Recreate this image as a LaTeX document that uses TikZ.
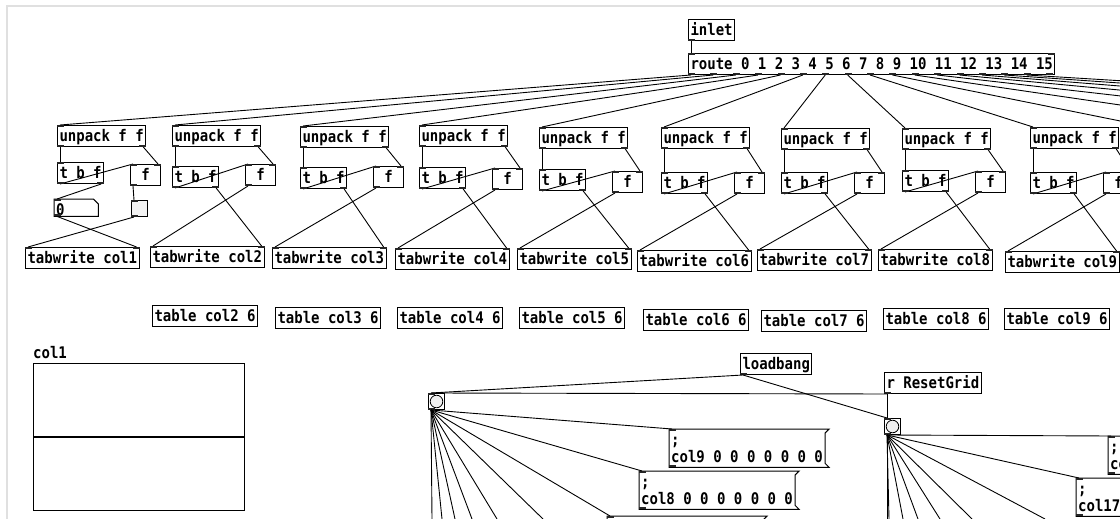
\documentclass[tikz,border=0pt]{standalone}
\usepackage{fontspec}
\newfontfamily\pdmono[FakeStretch=0.875]{DejaVu Sans Mono}
\newcommand\pdfont{\pdmono\bfseries\fontsize{16}{17}\selectfont}
\newcommand\pdmsg[1]{\vbox{\baselineskip=17pt\hbox{;}\hbox{#1}}}

\begin{document}
\begin{tikzpicture}[x=1pt, y=-1pt,
  obj/.style={draw, line width=1pt, anchor=north west, inner xsep=2pt, inner ysep=1pt,
    text height=15pt, text depth=4pt, font=\pdfont},
  msgbox/.style={anchor=north west, inner xsep=2pt, inner ysep=1pt,
    text height=32pt, text depth=4pt, font=\pdfont},
  wire/.style={line width=0.9pt},
  io/.style={fill=black!85},
  bng/.style={draw, line width=1pt, anchor=north west, minimum size=16pt, inner sep=0pt,
    path picture={\draw[line width=0.8pt, fill=black!6]
      (path picture bounding box.center) circle (6.3pt);}}]

\useasboundingbox (0,0) rectangle (1120,519);
\clip (0,0) rectangle (1120,519);
\fill[white] (0,0) rectangle (1120,519);
\draw[black!12, line width=2pt] (1120,6) -- (7,6) -- (7,519);

\node[obj] (inlet) at (688,19) {inlet};
\node[obj] (route) at (688,53) {route 0 1 2 3 4 5 6 7 8 9 10 11 12 13 14 15};
\draw[wire] ([xshift=3pt]inlet.south west) -- ([xshift=3pt]route.north west);
\fill[io] (inlet.south west) rectangle ++(7,-2);
\fill[io] (route.north west) rectangle ++(7,2);
\fill[io] (route.north east) rectangle ++(-7,2);
\foreach \k in {0,...,16}
  \fill[io] ([xshift={\k*22.375*1pt}]route.south west) rectangle ++(7,-2);

\foreach \i/\L/\uy/\ty/\fy/\wx/\wy in {1/57/125/162/164/25/247, 2/172/125/166/164/150/246,
    3/300/126/167/166/272/247, 4/419/125/167/168/395/248, 5/539/127/169/171/517/248,
    6/661/127/172/172/637/250, 7/781/128/172/172/757/249, 8/902/128/170/171/878/249,
    9/1030/127/172/172/1005/251}{
  \node[obj] (up\i) at (\L,\uy) {unpack f f};
  \node[obj] (tbf\i) at (\L,\ty) {t b f};
  \node[obj, minimum width=30pt] (ff\i) at (\L+73,\fy) {f};
  \node[obj] (tw\i) at (\wx,\wy) {tabwrite col\i};
  \draw[wire] ([xshift=3pt]up\i.south west) -- ([xshift=3pt]tbf\i.north west);
  \draw[wire] ([xshift=-3pt]up\i.south east) -- ([xshift=-3pt]ff\i.north east);
  \draw[wire] ([xshift=3pt]tbf\i.south west) -- ([xshift=3pt]ff\i.north west);
  \foreach \a/\w/\h in {north west/7/2, south west/7/-2, south east/-7/-2}{
    \fill[io] (up\i.\a) rectangle ++(\w,\h);
    \fill[io] (tbf\i.\a) rectangle ++(\w,\h);
  }
  \foreach \a/\w/\h in {north west/7/2, north east/-7/2, south west/7/-2}
    \fill[io] (ff\i.\a) rectangle ++(\w,\h);
  \foreach \a/\w/\h in {north west/7/2, north east/-7/2}
    \fill[io] (tw\i.\a) rectangle ++(\w,\h);
}

\node[anchor=north west, inner xsep=2pt, inner ysep=0pt, text height=16pt, text depth=1pt,
  font=\pdfont] (num) at (54,199) {\makebox[40pt][l]{0}};
\draw[line width=1pt]
     (num.north west)
  -- ([xshift=-5pt]num.north east)
  -- ([yshift=-5pt]num.north east)
  -- (num.south east)
  -- (num.south west)
  -- cycle;
\node[obj, fill=black!5, minimum size=16pt, inner sep=0pt, text height=0pt, text depth=0pt]
  (atom) at (131,200) {};
\foreach \a/\h in {north west/2, south west/-2}{
  \fill[io] (num.\a) rectangle ++(7,\h);
  \fill[io] (atom.\a) rectangle ++(7,\h);
}
\draw[wire] ([xshift=-3pt]tbf1.south east) -- ([xshift=3pt]num.north west);
\draw[wire] ([xshift=3pt]ff1.south west) -- ([xshift=3pt]atom.north west);
\draw[wire] ([xshift=3pt]num.south west) -- ([xshift=-3pt]tw1.north east);
\draw[wire] ([xshift=3pt]atom.south west) -- ([xshift=3pt]tw1.north west);

\foreach \i in {2,...,9}{
  \draw[wire] ([xshift=-3pt]tbf\i.south east) -- ([xshift=-3pt]tw\i.north east);
  \draw[wire] ([xshift=3pt]ff\i.south west) -- ([xshift=3pt]tw\i.north west);
}

\foreach \k in {0,...,8}{
  \pgfmathtruncatemacro\n{\k+1}
  \draw[wire] ([xshift={(3+\k*22.375)*1pt}]route.south west) -- ([xshift=3pt]up\n.north west);
}
\foreach \k in {9,...,15}{
  \coordinate (upx\k) at ({1150+121*(\k-9)},127);
  \draw[wire] ([xshift={(3+\k*22.375)*1pt}]route.south west) -- (upx\k);
}

\foreach \i/\x/\y in {2/152/305, 3/275/307, 4/397/307, 5/519/307,
    6/643/309, 7/761/310, 8/883/308, 9/1004/308}
  \node[obj] (tab\i) at (\x,\y) {table col\i{} 6};

\node[anchor=base west, inner sep=0pt, font=\pdfont] (glabel) at (33,358) {col1};
\draw[line width=1pt] (33,363) rectangle (244,510);
\draw[line width=2.2pt] (33,437) -- (244,437);

\node[obj] (load) at (740,353) {loadbang};
\node[obj] (reset) at (884,372) {r ResetGrid};
\node[bng] (bang1) at (428,393) {};
\node[bng] (bang2) at (884,418) {};
\foreach \b in {load,reset}
  \fill[io] (\b.south west) rectangle ++(7,-2);
\foreach \b in {bang1,bang2}{
  \fill[io] (\b.north west) rectangle ++(7,2);
  \fill[io] (\b.south west) rectangle ++(7,-2);
}
\draw[wire] ([xshift=3pt]load.south west) -- ([xshift=3pt]bang1.north west);
\draw[wire] ([xshift=3pt]load.south west) -- ([xshift=3pt]bang2.north west);
\draw[wire] ([xshift=3pt]reset.south west) -- ([xshift=3pt]bang2.north west);
\draw[wire] ([xshift=3pt]reset.south west) -- ([xshift=3pt]bang1.north west);

\node[msgbox] (m9) at (669,429) {\pdmsg{col9 0 0 0 0 0 0 0}};
\node[msgbox] (m8) at (639,471) {\pdmsg{col8 0 0 0 0 0 0 0}};
\node[msgbox] (m7) at (607,516) {\phantom{\pdmsg{col7 0 0 0 0 0 0 0}}};
\node[msgbox] (m18) at (1108,436) {\pdmsg{col18 0 0 0 0 0 0 0}};
\node[msgbox] (m17) at (1076,478) {\pdmsg{col17 0 0 0 0 0 0 0}};
\foreach \m in {m9,m8,m7,m18,m17}{
  \draw[line width=1pt]
       (\m.north west)
    -- ([xshift=4pt]\m.north east)
    -- ([yshift=-4pt]\m.north east)
    -- ([yshift=4pt]\m.south east)
    -- ([xshift=4pt]\m.south east)
    -- (\m.south west)
    -- cycle;
  \fill[io] (\m.north west) rectangle ++(7,2);
  \fill[io] (\m.south west) rectangle ++(7,-2);
}

\foreach \m in {m9,m8,m7}
  \draw[wire] ([xshift=3pt]bang1.south west) -- ([xshift=3pt]\m.north west);
\foreach \x [count=\j] in {432,442,455,472,497,543}{
  \coordinate (lo\j) at (\x,519);
  \draw[wire] ([xshift=3pt]bang1.south west) -- (lo\j);
}
\foreach \m in {m18,m17}
  \draw[wire] ([xshift=3pt]bang2.south west) -- ([xshift=3pt]\m.north west);
\foreach \x [count=\j] in {887,889,903,918,940,972,1045}{
  \coordinate (ri\j) at (\x,519);
  \draw[wire] ([xshift=3pt]bang2.south west) -- (ri\j);
}
\end{tikzpicture}
\end{document}
